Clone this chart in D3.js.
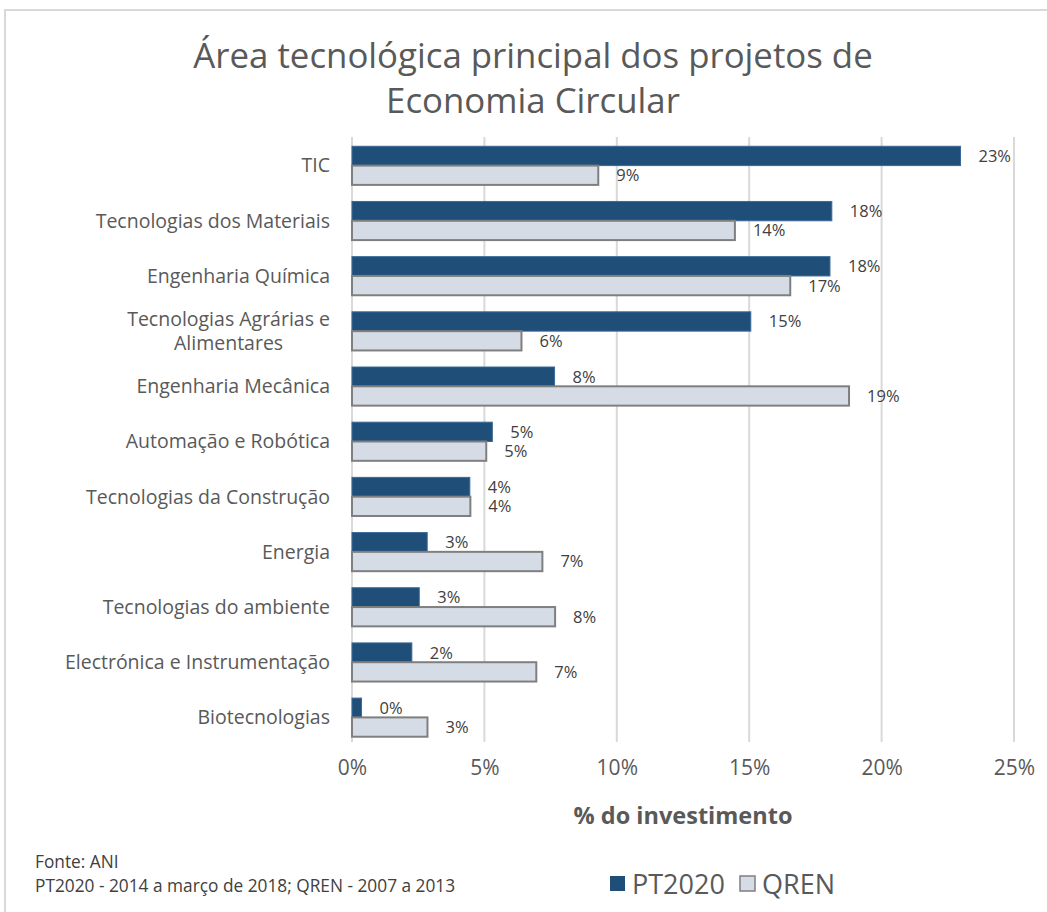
<!DOCTYPE html>
<html>
<head>
<meta charset="utf-8">
<script src="https://cdn.jsdelivr.net/npm/d3@7"></script>
<style>
  body { margin: 0; background: #fff; }
  svg text { font-family: "Open Sans", "DejaVu Sans", sans-serif; }
</style>
</head>
<body>
<div id="chart"></div>
<script>
// categories, top to bottom
const categories = [
    "TIC",
    "Tecnologias dos Materiais",
    "Engenharia Química",
    "Tecnologias Agrárias e|Alimentares",
    "Engenharia Mecânica",
    "Automação e Robótica",
    "Tecnologias da Construção",
    "Energia",
    "Tecnologias do ambiente",
    "Electrónica e Instrumentação",
    "Biotecnologias"
];
const seriesNames = ["PT2020", "QREN"];
// % do investimento
const pt2020 = [22.98, 18.12, 18.05, 15.06, 7.65, 5.30, 4.45, 2.84, 2.54, 2.26, 0.36];
const qren = [9.30, 14.46, 16.55, 6.40, 18.77, 5.07, 4.47, 7.19, 7.67, 6.96, 2.85];
const tickValues = [0, 5, 10, 15, 20, 25];

const width = 1047, height = 912;
const colors = { PT2020: "#1f4e79", QREN: "#d6dce5" };
const strokes = { PT2020: "#3b6a99", QREN: "#7f7f7f" };

const svg = d3.select("#chart").append("svg")
    .attr("width", width)
    .attr("height", height);

// outer chart frame (runs off right and bottom edge)
svg.append("rect")
    .attr("x", 5).attr("y", 10)
    .attr("width", width + 20).attr("height", height + 20)
    .attr("fill", "#fff")
    .attr("stroke", "#d9d9d9")
    .attr("stroke-width", 2);

// title
const title = svg.append("text")
    .attr("text-anchor", "middle")
    .attr("fill", "#595959")
    .attr("font-size", "34.8px")
    .attr("font-weight", 400);
title.append("tspan").attr("x", 533).attr("y", 68).text("Área tecnológica principal dos projetos de");
title.append("tspan").attr("x", 533).attr("y", 113).text("Economia Circular");

const x = d3.scaleLinear().domain([0, 25]).range([352, 1014]);
const y = d3.scaleBand().domain(categories).range([138, 745])
    .paddingInner(0.3).paddingOuter(0.15);
const ySub = d3.scaleBand().domain(seriesNames).range([0, y.bandwidth()]);

// gridlines
svg.append("g").selectAll("line")
    .data(tickValues)
    .enter()
    .append("line")
    .attr("x1", d => x(d)).attr("x2", d => x(d))
    .attr("y1", 137).attr("y2", 742)
    .attr("stroke", "#d9d9d9")
    .attr("stroke-width", 2);

// x axis tick labels
const xAxis = d3.axisBottom(x)
    .tickValues(tickValues)
    .tickFormat(d => d + "%")
    .tickSize(0)
    .tickPadding(0);
const axisG = svg.append("g")
    .attr("transform", "translate(0, 760)")
    .call(xAxis);
axisG.select(".domain").remove();
axisG.selectAll("text")
    .attr("dy", "0.71em")
    .attr("font-size", "21px")
    .attr("fill", "#595959")
    .style("font-family", "'Open Sans', sans-serif");

// axis title
svg.append("text")
    .attr("x", (x(0) + x(25)) / 2)
    .attr("y", 824)
    .attr("text-anchor", "middle")
    .attr("font-size", "23.5px")
    .attr("font-weight", "bold")
    .attr("fill", "#595959")
    .text("% do investimento");

// category labels
const catG = svg.append("g");
categories.forEach(function (c) {
    const lines = c.split("|");
    const cy = y(c) + y.bandwidth() / 2;
    const t = catG.append("text")
        .attr("text-anchor", "end")
        .attr("font-size", "19.5px")
        .attr("fill", "#595959");
    if (lines.length == 1) {
        t.attr("x", 330).attr("y", cy).attr("dy", "0.35em").text(c);
    } else {
        // two-line label, lines centered on the widest one
        t.attr("text-anchor", "middle");
        const spans = lines.map(function (l, i) {
            return t.append("tspan")
                .attr("y", cy)
                .attr("dy", (i == 0 ? -0.25 : 0.98) + "em")
                .text(l);
        });
        const w = d3.max(spans, s => s.node().getComputedTextLength());
        spans.forEach(s => s.attr("x", 330 - w / 2));
    }
});

// bars
const rows = categories.map((c, i) => ({ cat: c, PT2020: pt2020[i], QREN: qren[i] }));
const groups = svg.append("g").selectAll("g")
    .data(rows)
    .enter()
    .append("g")
    .attr("transform", d => "translate(0," + y(d.cat) + ")");

groups.selectAll("rect")
    .data(d => seriesNames.map(s => ({ key: s, value: d[s] })))
    .enter()
    .append("rect")
    .attr("x", x(0))
    .attr("y", d => ySub(d.key))
    .attr("width", d => x(d.value) - x(0))
    .attr("height", ySub.bandwidth())
    .attr("fill", d => colors[d.key])
    .attr("stroke", d => strokes[d.key])
    .attr("stroke-width", d => d.key == "QREN" ? 2 : 1);

groups.selectAll(".lbl")
    .data(d => seriesNames.map(s => ({ key: s, value: d[s] })))
    .enter()
    .append("text")
    .attr("class", "lbl")
    .attr("x", d => x(d.value) + 18)
    .attr("y", d => ySub(d.key) + ySub.bandwidth() / 2)
    .attr("dy", "0.36em")
    .attr("font-size", "16.5px")
    .attr("fill", "#404040")
    .text(d => Math.round(d.value) + "%");

// source note
const note = svg.append("text")
    .attr("font-size", "17.3px")
    .attr("fill", "#404040");
note.append("tspan").attr("x", 35).attr("y", 868).text("Fonte: ANI");
note.append("tspan").attr("x", 35).attr("y", 892).text("PT2020 - 2014 a março de 2018; QREN - 2007 a 2013");

// legend
const legend = svg.append("g").attr("transform", "translate(610, 884)");
const legendX = d3.scaleOrdinal().domain(seriesNames).range([0, 130]);
const li = legend.selectAll("g")
    .data(seriesNames)
    .enter()
    .append("g")
    .attr("transform", d => "translate(" + legendX(d) + ",0)");
li.append("rect")
    .attr("x", 0).attr("y", -8)
    .attr("width", 15).attr("height", 15)
    .attr("fill", d => colors[d])
    .attr("stroke", d => d == "QREN" ? "#7f7f7f" : "none")
    .attr("stroke-width", 1.5);
li.append("text")
    .attr("x", 22)
    .attr("dy", "0.36em")
    .attr("font-size", "27px")
    .attr("fill", "#595959")
    .text(d => d);
</script>
</body>
</html>
